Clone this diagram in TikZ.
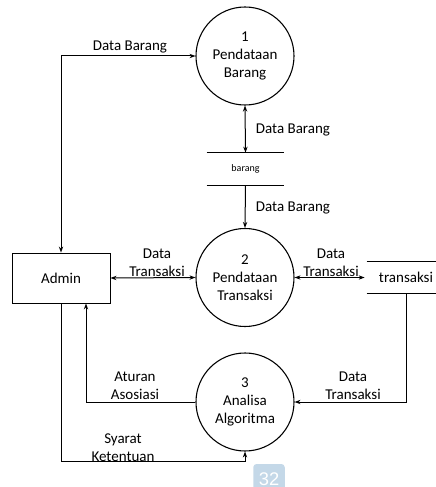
\documentclass[tikz,border=0pt]{standalone}
\usepackage{fontspec}
\setmainfont{Carlito}
\newfontfamily\pagefont{Liberation Sans}
\usetikzlibrary{arrows.meta}
\definecolor{pagebox}{RGB}{196,216,232}
\begin{document}
\begin{tikzpicture}[x=0.6pt,y=-0.6pt,
    every node/.style={font=\fontsize{9}{10.8}\selectfont},
    >={Stealth[length=3.6pt,width=2.6pt]},
    flow/.style={line width=0.6pt},
    proc/.style={draw,circle,line width=0.65pt,minimum size=98*0.6pt,inner sep=0pt,align=center},
    entity/.style={draw,line width=0.55pt,minimum width=98*0.6pt,minimum height=50*0.6pt},
    store/.style={minimum width=77*0.6pt,minimum height=32*0.6pt,inner sep=0pt},
    lbl/.style={align=center,inner sep=0pt}]
        \useasboundingbox (0,0) rectangle (435,487);
        %% processes
        \node[proc] (proc1) at (245,56) {1\\Pendataan\\Barang};
        \node[proc] (proc2) at (245,277.5) {2\\Pendataan\\Transaksi};
        \node[proc] (proc3) at (245,402) {3\\Analisa\\Algoritma};
        %% entity
        \node[entity] (admin) at (61,278) {Admin};
        %% stores
        \node[store,font=\fontsize{6}{7}\selectfont] (barang) at (245.5,169) {barang};
        \node[store,minimum width=78*0.6pt] (transaksi) at (406,277.5) {transaksi};
        \foreach \s in {barang,transaksi}
            \draw[flow] (\s.north west) -- (\s.north east) (\s.south west) -- (\s.south east);
        %% flows
        \draw[flow,<->] (admin.north) |- (proc1.west);
        \draw[flow,<->] (proc1.south) -- (barang.north);
        \draw[flow,->] (barang.south) -- (proc2.north);
        \draw[flow,<->] (admin.east) -- (proc2.west);
        \draw[flow,<->] (proc2.east) -- ([xshift=-2*0.6pt]transaksi.west);
        \draw[flow,->] (proc3.west) -| ([xshift=25*0.6pt]admin.south);
        \draw[flow,->] (transaksi.south) |- (proc3.east);
        \draw[flow,->] (admin.south) |- ([yshift=-10*0.6pt]proc3.south) -- (proc3.south);
        %% labels
        \node[lbl] (lbl1) at (130,47) {Data Barang};
        \node[lbl] (lbl2) at (293,130) {Data Barang};
        \node[lbl] (lbl3) at (293,208) {Data Barang};
        \node[lbl] (lbl4) at (157,263) {Data\\Transaksi};
        \node[lbl] (lbl5) at (331,263) {Data\\Transaksi};
        \node[lbl] (lbl6) at (135,386) {Aturan\\Asosiasi};
        \node[lbl] (lbl7) at (353,386) {Data\\Transaksi};
        \node[lbl] (lbl8) at (123,448) {Syarat\\Ketentuan};
        %% page number
        \node[fill=pagebox,rounded corners=2pt,minimum width=30*0.6pt,minimum height=30*0.6pt,
            text=white,font=\pagefont\fontsize{11}{11}\selectfont] (page) at (269,479) {32};
    \end{tikzpicture}
\end{document}
